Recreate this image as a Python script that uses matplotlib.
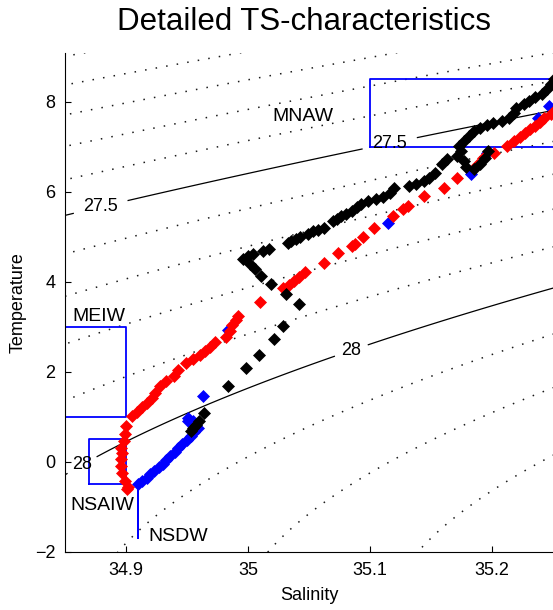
import numpy as np
import matplotlib
matplotlib.use("Agg")
import matplotlib.pyplot as plt

plt.rcParams['font.family'] = ['Liberation Sans', 'DejaVu Sans']

# --- profile data (salinity, temperature) ---
blue_S = [34.910, 34.913, 34.917, 34.920, 34.923, 34.927, 34.930, 34.933, 34.936,
          34.940, 34.943, 34.946, 34.950, 34.953, 34.956, 34.959, 34.955, 34.951,
          34.951, 34.963, 34.984, 35.115, 35.183, 35.196, 35.238, 35.247]
blue_T = [-0.50, -0.43, -0.36, -0.27, -0.21, -0.12, -0.05, 0.04, 0.13,
          0.22, 0.30, 0.39, 0.48, 0.57, 0.66, 0.75, 0.90, 0.97,
          0.90, 1.46, 2.94, 5.30, 6.39, 6.86, 7.64, 7.90]

red_S = [34.902, 34.901, 34.899, 34.897, 34.896, 34.896, 34.897, 34.896, 34.898,
         34.899, 34.900, 34.905, 34.909, 34.913, 34.917, 34.921, 34.924, 34.928,
         34.933, 34.939, 34.943, 34.949, 34.955, 34.961, 34.965, 34.969, 34.973,
         34.982, 34.985, 34.987, 34.990, 34.992, 35.010, 35.029, 35.034, 35.038,
         35.042, 35.047, 35.062, 35.074, 35.085, 35.088, 35.094, 35.103, 35.119,
         35.127, 35.131, 35.144, 35.161, 35.171, 35.188, 35.193, 35.202, 35.212,
         35.218, 35.223, 35.227, 35.231, 35.235, 35.239, 35.243, 35.248, 35.251]
red_T = [-0.55, -0.60, -0.43, -0.25, -0.10, 0.06, 0.19, 0.32, 0.46,
         0.63, 0.79, 1.01, 1.10, 1.21, 1.30, 1.41, 1.52, 1.68,
         1.79, 1.90, 2.04, 2.19, 2.28, 2.37, 2.46, 2.55, 2.66,
         2.77, 2.90, 3.04, 3.15, 3.24, 3.55, 3.86, 3.93, 4.01,
         4.10, 4.21, 4.41, 4.64, 4.79, 4.84, 4.99, 5.19, 5.46,
         5.61, 5.68, 5.90, 6.08, 6.30, 6.59, 6.75, 6.86, 7.01,
         7.13, 7.21, 7.30, 7.39, 7.46, 7.55, 7.64, 7.73, 7.79]

black_S = [34.953, 34.955, 34.957, 34.960, 34.964, 34.984, 34.998, 35.009, 35.021,
           35.029, 35.042, 35.031, 35.019, 35.011, 35.006, 35.002, 34.996, 35.000,
           35.004, 35.012, 35.017, 35.033, 35.035, 35.039, 35.043, 35.049, 35.053,
           35.057, 35.062, 35.070, 35.073, 35.076, 35.080, 35.085, 35.089, 35.093,
           35.098, 35.105, 35.111, 35.116, 35.120, 35.132, 35.138, 35.144, 35.148,
           35.153, 35.159, 35.163, 35.171, 35.175, 35.177, 35.179, 35.185, 35.190,
           35.194, 35.197, 35.173, 35.177, 35.181, 35.185, 35.190, 35.196, 35.201,
           35.208, 35.214, 35.218, 35.220, 35.226, 35.230, 35.235, 35.241, 35.245,
           35.248, 35.251]
black_T = [0.68, 0.75, 0.82, 0.90, 1.08, 1.68, 2.08, 2.37, 2.74,
           3.01, 3.50, 3.72, 3.95, 4.12, 4.28, 4.39, 4.50, 4.57,
           4.61, 4.68, 4.72, 4.86, 4.90, 4.94, 4.99, 5.06, 5.12,
           5.15, 5.19, 5.34, 5.39, 5.46, 5.50, 5.57, 5.66, 5.72,
           5.79, 5.84, 5.88, 5.97, 6.08, 6.12, 6.17, 6.24, 6.30,
           6.41, 6.61, 6.72, 6.79, 6.90, 6.68, 6.55, 6.50, 6.61,
           6.75, 6.90, 7.01, 7.12, 7.24, 7.35, 7.41, 7.48, 7.53,
           7.57, 7.64, 7.75, 7.86, 7.95, 8.02, 8.10, 8.17, 8.28,
           8.39, 8.50]

# water mass boxes: (S_min, S_max, T_min, T_max)
boxes = {
    'MNAW': (35.10, 35.30, 7.0, 8.5),
    'MEIW': (34.80, 34.90, 1.0, 3.0),
    'NSAIW': (34.87, 34.90, -0.5, 0.5),
    'NSDW': (34.91, 34.91, -1.7, -0.5),
}
box_labels = {'MNAW': (35.020, 7.66), 'MEIW': (34.856, 3.24),
              'NSAIW': (34.854, -0.97), 'NSDW': (34.918, -1.65)}

dotted_levels = [27.0, 27.1, 27.2, 27.3, 27.4, 27.6, 27.7, 27.8, 27.9, 28.1, 28.2, 28.3]
solid_levels = [27.5, 28.0]
label_pos = [(34.879, 5.68), (35.115, 7.17), (34.865, -0.10), (35.086, 2.41)]


def sigma0(S, T):
    # UNESCO 1983 density at zero pressure, minus 1000
    rw = (999.842594 + 6.793952e-2 * T - 9.095290e-3 * T**2 + 1.001685e-4 * T**3
          - 1.120083e-6 * T**4 + 6.536332e-9 * T**5)
    a = 0.824493 - 4.0899e-3 * T + 7.6438e-5 * T**2 - 8.2467e-7 * T**3 + 5.3875e-9 * T**4
    b = -5.72466e-3 + 1.0227e-4 * T - 1.6546e-6 * T**2
    return rw + a * S + b * S**1.5 + 4.8314e-4 * S**2 - 1000.0


fig = plt.figure(figsize=(5.53, 6.10), dpi=100)
ax = fig.add_axes([65 / 553, 58 / 610, 488 / 553, 499 / 610])

Sg, Tg = np.meshgrid(np.linspace(34.80, 35.35, 300), np.linspace(-2.5, 9.5, 300))
dens = sigma0(Sg, Tg)
ax.contour(Sg, Tg, dens, levels=dotted_levels, colors='0.1',
           linewidths=1.1, linestyles=[(0, (1, 6))])
cs = ax.contour(Sg, Tg, dens, levels=solid_levels, colors='k', linewidths=0.9)
labels = ax.clabel(cs, fmt={27.5: '27.5', 28.0: '28'}, manual=label_pos,
                   inline=True, inline_spacing=3, fontsize=13)
for t in labels:
    t.set_rotation(0)

for name, (s0, s1, t0, t1) in boxes.items():
    ax.plot([s0, s1, s1, s0, s0], [t0, t0, t1, t1, t0], color='blue', lw=1.3)
    tx, ty = box_labels[name]
    ax.text(tx, ty, name, fontsize=14, ha='left', va='center')

ax.plot(blue_S, blue_T, 'D', color='blue', ms=6.5, mew=0.5)
ax.plot(red_S, red_T, 'D', color='red', ms=6.5, mew=0.5)
ax.plot(black_S, black_T, 'D', color='black', ms=6.5, mew=0.5)

ax.set_xlim(34.85, 35.25)
ax.set_ylim(-2, 9.08)
ax.set_xticks([34.9, 35.0, 35.1, 35.2])
ax.set_xticklabels(['34.9', '35', '35.1', '35.2'])
ax.set_yticks([-2, 0, 2, 4, 6, 8])
ax.tick_params(direction='in', length=4, labelsize=13, pad=7)
for side in ('top', 'right'):
    ax.spines[side].set_visible(False)
ax.set_xlabel('Salinity', fontsize=13, labelpad=6)
ax.set_ylabel('Temperature', fontsize=13, labelpad=6)
fig.text(304 / 553, 1 - 22 / 610, 'Detailed TS-characteristics',
         fontsize=22.5, ha='center', va='center')

fig.savefig('out.png', dpi=100)
